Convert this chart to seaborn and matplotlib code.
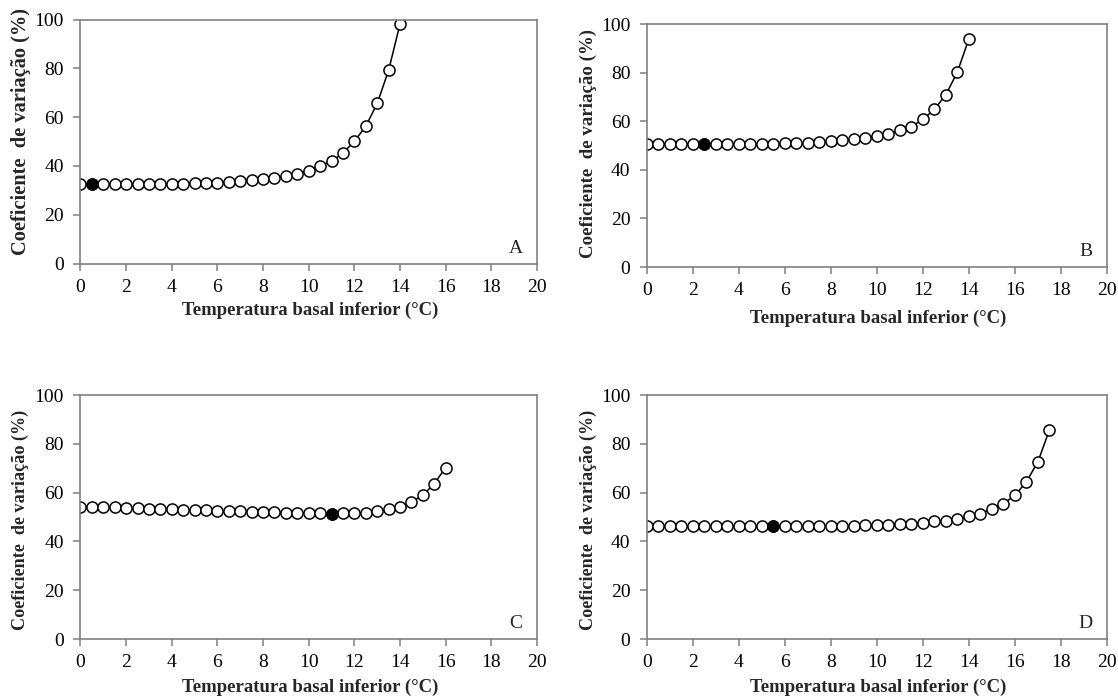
import matplotlib
matplotlib.use("Agg")
import matplotlib.pyplot as plt
import seaborn as sns
import numpy as np

sns.set_style("white")
plt.rcParams['font.family'] = ['Liberation Serif', 'DejaVu Serif']

# temperatura basal inferior (°C)
x_a = [0, 0.5, 1, 1.5, 2, 2.5, 3, 3.5, 4, 4.5, 5, 5.5, 6, 6.5, 7, 7.5, 8, 8.5, 9, 9.5,
       10, 10.5, 11, 11.5, 12, 12.5, 13, 13.5, 14]
cv_a = [32.4, 32.6, 32.4, 32.4, 32.4, 32.4, 32.5, 32.5, 32.6, 32.7, 32.9, 33.0, 33.2, 33.5,
        33.9, 34.1, 34.6, 35.0, 35.9, 36.9, 38.0, 40.0, 41.9, 45.3, 50.1, 56.3, 65.6, 79.2, 98.2]
best_a = 0.5

x_b = x_a
cv_b = [50.7, 50.7, 50.7, 50.7, 50.7, 50.7, 50.7, 50.7, 50.7, 50.7, 50.8, 50.8, 50.9, 51.0,
        51.2, 51.3, 51.8, 52.1, 52.5, 53.2, 53.8, 54.8, 56.2, 57.8, 60.8, 64.9, 71.0, 80.3, 94.0]
best_b = 2.5

x_c = [0, 0.5, 1, 1.5, 2, 2.5, 3, 3.5, 4, 4.5, 5, 5.5, 6, 6.5, 7, 7.5, 8, 8.5, 9, 9.5,
       10, 10.5, 11, 11.5, 12, 12.5, 13, 13.5, 14, 14.5, 15, 15.5, 16]
cv_c = [54.3, 54.2, 54.1, 54.0, 53.8, 53.6, 53.5, 53.3, 53.2, 53.0, 52.9, 52.7, 52.6, 52.4,
        52.3, 52.1, 52.0, 51.9, 51.8, 51.7, 51.6, 51.5, 51.4, 51.5, 51.6, 51.8, 52.4, 53.1,
        54.2, 56.2, 58.9, 63.7, 70.3]
best_c = 11

x_d = [0, 0.5, 1, 1.5, 2, 2.5, 3, 3.5, 4, 4.5, 5, 5.5, 6, 6.5, 7, 7.5, 8, 8.5, 9, 9.5,
       10, 10.5, 11, 11.5, 12, 12.5, 13, 13.5, 14, 14.5, 15, 15.5, 16, 16.5, 17, 17.5]
cv_d = [46.5, 46.5, 46.5, 46.4, 46.4, 46.4, 46.4, 46.4, 46.4, 46.4, 46.4, 46.4, 46.4, 46.4,
        46.4, 46.4, 46.4, 46.4, 46.5, 46.6, 46.7, 46.9, 47.1, 47.3, 47.6, 48.2, 48.4, 49.4,
        50.3, 51.4, 53.3, 55.5, 58.9, 64.5, 72.7, 85.7]
best_d = 5.5

# letra, x, y, melhor Tb, posição, tamanho do rótulo y, posição rótulo y, posição rótulo x
panels = [
    ("A", x_a, cv_a, best_a, [0.0720, 0.6230, 0.4083, 0.3490], 14.7, (-0.131, 0.543), -0.19),
    ("B", x_b, cv_b, best_b, [0.5787, 0.6180, 0.4114, 0.3476], 13.6, (-0.128, 0.51), -0.21),
    ("C", x_c, cv_c, best_c, [0.0720, 0.0858, 0.4083, 0.3490], 13.1, (-0.131, 0.49), -0.20),
    ("D", x_d, cv_d, best_d, [0.5787, 0.0858, 0.4114, 0.3490], 13.1, (-0.128, 0.49), -0.20),
]

fig = plt.figure(figsize=(11.18, 6.99), dpi=100)

for letra, xs, ys, best, pos, ysize, ycoord, xlab_y in panels:
    ax = fig.add_axes(pos)
    sns.lineplot(x=xs, y=ys, ax=ax, color="black", linewidth=1.1, marker="o",
                 markersize=8, markerfacecolor="white", markeredgecolor="black",
                 markeredgewidth=1.1)
    i = xs.index(best)
    sns.scatterplot(x=[xs[i]], y=[ys[i]], ax=ax, color="black", s=62,
                    edgecolor="black", linewidth=1.1, zorder=5)
    ax.set_xlim(0, 20)
    ax.set_ylim(0, 100)
    ax.set_xticks(np.arange(0, 21, 2))
    ax.set_yticks(np.arange(0, 101, 20))
    for s in ax.spines.values():
        s.set_color("#808080")
        s.set_linewidth(1.2)
    ax.tick_params(axis="both", direction="out", length=5, width=1.1,
                   color="#808080", labelsize=14, labelcolor="black",
                   bottom=True, left=True)
    ax.tick_params(axis="y", pad=7)
    ax.tick_params(axis="x", pad=6)
    ax.set_xlabel("Temperatura basal inferior (°C)", fontsize=13.5, fontweight="bold")
    ax.xaxis.set_label_coords(0.503, xlab_y)
    ax.xaxis.label.set_va("center")
    ax.set_ylabel("Coeficiente  de variação (%)", fontsize=ysize, fontweight="bold")
    ax.yaxis.set_label_coords(*ycoord)
    ax.yaxis.label.set_va("center")
    ax.text(0.954, 0.063, letra, transform=ax.transAxes, fontsize=14,
            ha="center", va="center")

fig.savefig("out.png", dpi=100)
